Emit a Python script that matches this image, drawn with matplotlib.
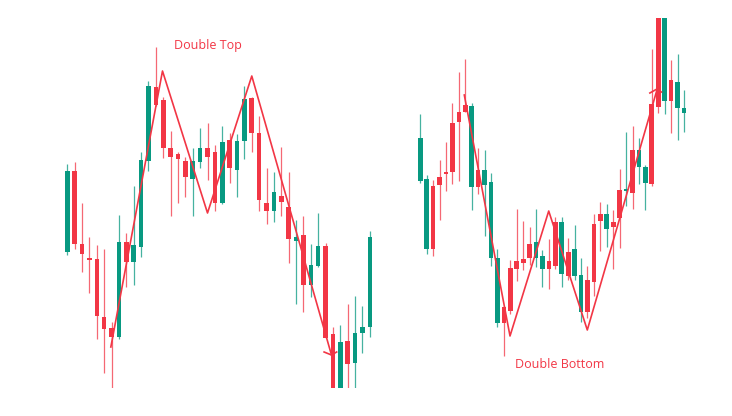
import matplotlib
matplotlib.use("Agg")
import matplotlib.pyplot as plt

GREEN = "#089981"
RED = "#F23645"

# ---- Left chart (Double Top) OHLC ----
top_open  = [164,245,172,158,157, 99, 88, 79,174,154,169,255,329,316,268,262,255,237,254,268,
             264,213,276,246,275,318,283,213,205,220,209,175,181,131,150,170, 82, 20, 75, 53, 83, 89]
top_high  = [252,254,213,179,171,167, 94,201,183,230,264,335,369,319,285,264,259,268,288,293,
             271,290,283,282,330,319,300,248,244,269,244,196,200,172,203,173, 89, 91,112,120,110,185]
top_low   = [161,167,144,123, 77, 43, 28, 77,129,131,159,245,310,258,200,213,219,200,248,236,
             205,212,233,219,257,264,205,192,194,200,153,112,104,119,149, 78, 15, 15, 15, 15, 63, 79]
top_close = [245,172,162,156,100, 87, 79,174,154,171,256,330,311,268,259,257,239,255,268,259,
             213,274,248,275,317,283,216,205,224,214,177,179,131,151,170, 78, 20, 74, 52, 83, 89,179]

# pattern line (candle index, price)
top_line_x = [5.9, 12.9, 19.0, 25.0, 35.8]
top_line_y = [69, 345, 203, 340, 61]
top_tick_x = [34.8, 35.8, 36.5]
top_tick_y = [64, 61, 64]

# ---- Right chart (Double Bottom) OHLC ----
bot_open  = [235,167,230,239,244,293,304,311,229,246,231,158, 93,109,148,155,157,172,158,147,
             155,194,142,164,140,104,136,192,202,187,194,226,225,266,249,233,312,410,315,336,308,303]
bot_high  = [302,241,236,256,274,313,344,357,313,268,266,243,167,110,156,207,195,189,207,166,
             177,199,199,178,191,158,150,202,214,212,206,247,284,290,278,251,367,420,420,356,362,326]
bot_low   = [233,162,160,196,225,232,235,304,206,222,180,150, 89, 60,102,135,146,151,149,129,
             127,147,129,136,136, 94, 98,120,165,169,147,168,210,207,232,206,230,303,302,283,276,284]
bot_close = [278,237,167,231,242,244,294,304,310,229,246,234,158, 93,105,147,153,158,174,160,
             147,150,194,140,167,141,104,134,195,202,189,198,227,223,266,249,232,309,410,315,334,308]

bot_line_x = [6.84, 13.95, 19.97, 25.97, 36.8]
bot_line_y = [321, 80, 205, 86, 326]
bot_tick_x = [35.7, 36.8, 37.5]
bot_tick_y = [323, 327, 324]

W, H = 732, 416
fig = plt.figure(figsize=(W/100, H/100), dpi=100)
fig.patch.set_facecolor("white")


def draw(ax, o, h, l, c, width):
    for i in range(len(o)):
        col = GREEN if c[i] >= o[i] else RED
        ax.vlines(i, l[i], h[i], color=col, linewidth=0.9, alpha=0.75, zorder=1)
        lo, hi = min(o[i], c[i]), max(o[i], c[i])
        ax.bar(i, max(hi - lo, 1.5), bottom=lo, width=width, color=col,
               linewidth=0, zorder=2)


# left axes: pixels x 40..390, y 20..388
axL = fig.add_axes([40/W, (H-388)/H, 350/W, 368/H])
draw(axL, top_open, top_high, top_low, top_close, 0.62)
axL.plot(top_line_x, top_line_y, color=RED, linewidth=1.2, zorder=3)
axL.plot(top_tick_x, top_tick_y, color=RED, linewidth=1.2, zorder=3)
axL.set_xlim(-3.70, 43.73)
axL.set_ylim(28, 396)
axL.set_axis_off()

# right axes: pixels x 400..710, y 18..400
axR = fig.add_axes([400/W, (H-400)/H, 310/W, 382/H])
draw(axR, bot_open, bot_high, bot_low, bot_close, 0.72)
axR.plot(bot_line_x, bot_line_y, color=RED, linewidth=1.2, zorder=3)
axR.plot(bot_tick_x, bot_tick_y, color=RED, linewidth=1.2, zorder=3)
axR.set_xlim(-3.157, 45.05)
axR.set_ylim(16, 398)
axR.set_axis_off()

fig.text(208/W, 1 - 46/H, "Double Top", color=RED, fontsize=9,
         ha="center", va="center", family="Open Sans")
fig.text(560/W, 1 - 364/H, "Double Bottom", color=RED, fontsize=9,
         ha="center", va="center", family="Open Sans")

fig.savefig("out.png", dpi=100, facecolor="white")
